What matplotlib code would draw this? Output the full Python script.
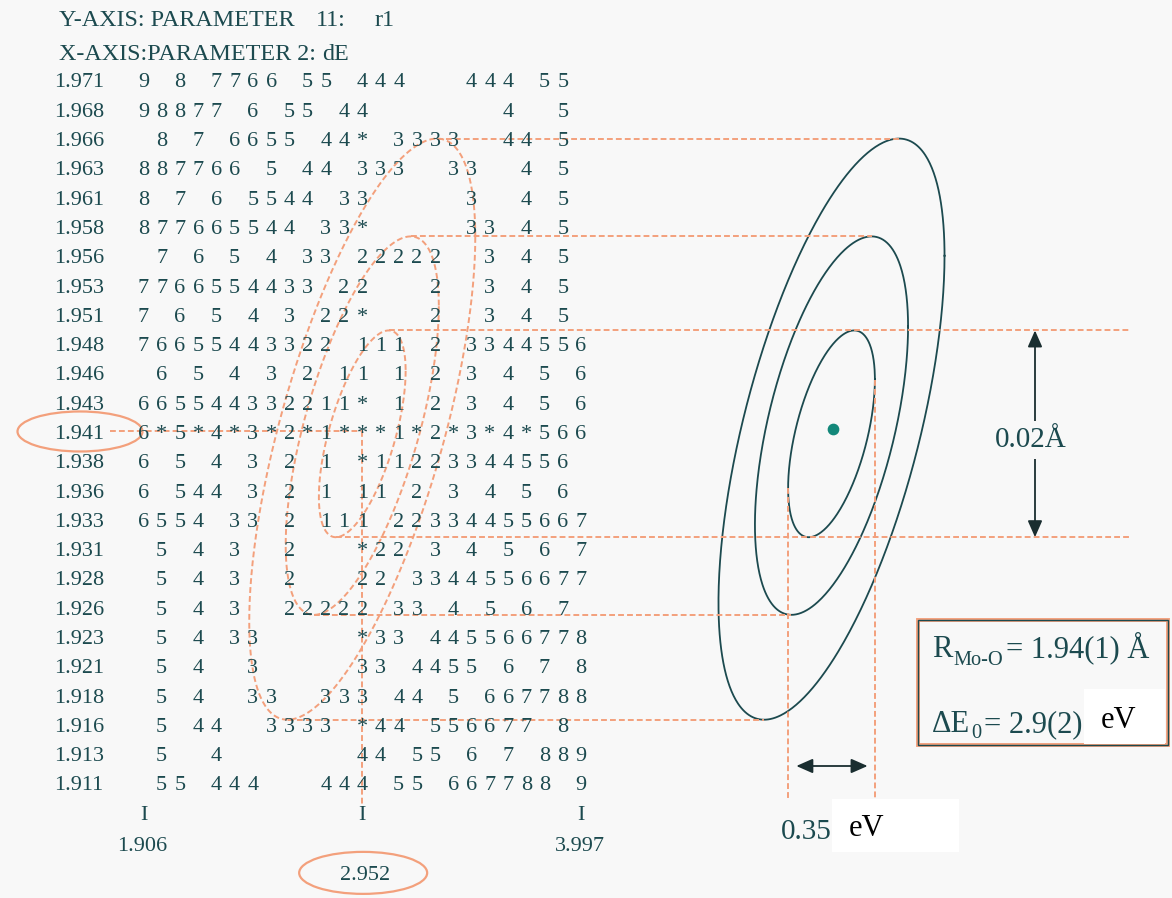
import numpy as np
import matplotlib
matplotlib.use("Agg")
import matplotlib.pyplot as plt
from matplotlib import transforms as mtransforms
from matplotlib.patches import Ellipse, Rectangle

plt.rcParams['font.family'] = ['Liberation Serif', 'DejaVu Serif']

# ---------------- data ----------------
header_y = ["Y-AXIS: PARAMETER", "11:", "r1"]
header_x = ["X-AXIS:PARAMETER 2:", "dE"]

row_labels = ["1.971", "1.968", "1.966", "1.963", "1.961", "1.958", "1.956",
              "1.953", "1.951", "1.948", "1.946", "1.943", "1.941", "1.938",
              "1.936", "1.933", "1.931", "1.928", "1.926", "1.923", "1.921",
              "1.918", "1.916", "1.913", "1.911"]

grid_rows = [
    "9 8 7766 55 444   444 55 ",
    "98877 6 55 44       4  5 ",
    " 8 7 6655 44* 3333  44 5 ",
    "887766 5 44 333  33  4 5 ",
    "8 7 6 5544 33     3  4 5 ",
    "877665544 33*     33 4 5 ",
    " 7 6 5 4 33 22222  3 4 5 ",
    "7766554433 22   2  3 4 5 ",
    "7 6 5 4 3 22*   2  3 4 5 ",
    "76655443322 111 2 3344556",
    " 6 5 4 3 2 11 1 2 3 4 5 6",
    "665544332211* 1 2 3 4 5 6",
    "6*5*4*3*2*1***1*2*3*4*566",
    "6 5 4 3 2 1 *11223344556 ",
    "6 544 3 2 1 11 2 3 4 5 6 ",
    "6554 33 2 111 22334455667",
    " 5 4 3  2   *22 3 4 5 6 7",
    " 5 4 3  2   22 3344556677",
    " 5 4 3  22222 33 4 5 6 7 ",
    " 5 4 33     *33 445566778",
    " 5 4  3     33 4455 6 7 8",
    " 5 4  33  333 44 5 667788",
    " 5 44  3333 *44 556677 8 ",
    " 5  4       44 55 6 7 889",
    " 55 444   444 55 667788 9",
]

x_tick_cols = [0, 12, 24]
x_tick_labels = ["1.906", "2.952", "3.997"]
best_col, best_row = 12, 12          # minimum: dE = 2.952, r1 = 1.941

# confidence contours (in grid units: columns of dE, rows of r1)
contour_half_width = [6.2, 4.2, 2.38]
contour_half_height = [9.92, 6.46, 3.53]
contour_center_row = [11.92, 11.80, 12.08]
left_top_shift = [4.1, 2.65, 1.45]
right_top_shift = [3.7, 2.2, 1.25]
left_center_col = 12.0
right_center_col = 37.74

result_R = ("R", "Mo-O", "= 1.94(1) Å")
result_E = ("ΔE", "0", "= 2.9(2)")
width_R = "0.02Å"
width_E = "0.35"
unit_E = "eV"

# ---------------- layout ----------------
W, H = 1172, 898
COL0, COLSTEP = 143.5, 18.23
ROW0, ROWSTEP = 80.0, 29.29
BG = "#f8f8f8"
TXT = "#1c4a4f"
ORANGE = "#f3a07c"
DASH = (0, (3, 1.6))

fig = plt.figure(figsize=(W / 100, H / 100), dpi=100, facecolor=BG)
ax = fig.add_axes([0, 0, 1, 1])
ax.set_facecolor(BG)
ax.set_xlim(-COL0 / COLSTEP, (W - COL0) / COLSTEP)
ax.set_ylim((H - ROW0) / ROWSTEP, -ROW0 / ROWSTEP)
ax.axis("off")
pix = mtransforms.Affine2D().scale(1 / W, -1 / H).translate(0, 1) + fig.transFigure


def pc(x):
    return (x - COL0) / COLSTEP


def pr(y):
    return (y - ROW0) / ROWSTEP


BASE = 0.256  # baseline offset (rows) from character centre

# header
for txt, xp in zip(header_y, [59, 316, 375]):
    ax.text(xp, 26, txt, transform=pix, fontsize=17.4, color=TXT, va="baseline")
for txt, xp in zip(header_x, [59, 322]):
    ax.text(xp, 60, txt, transform=pix, fontsize=17.4, color=TXT, va="baseline")

# character map
for r, (lab, line) in enumerate(zip(row_labels, grid_rows)):
    ax.text(pc(54), r + BASE, lab, fontsize=16, color=TXT, ha="left", va="baseline")
    for k, ch in enumerate(line):
        if ch != " ":
            ax.text(k, r + BASE, ch, fontsize=16, color=TXT, ha="center", va="baseline")

# x-axis ticks
nrow = len(row_labels)
for c, lab in zip(x_tick_cols, x_tick_labels):
    ax.text(c, nrow + BASE, "I", fontsize=16, color=TXT, ha="center", va="baseline")
    if c == best_col:
        ax.text(c + 0.15, nrow + 2.07 + BASE, lab, fontsize=16, color=TXT, ha="center", va="baseline")
    else:
        ax.text(c - 0.1 if c == 0 else c - 0.05, nrow + 1.05 + BASE, lab, fontsize=16,
                color=TXT, ha="center", va="baseline")

# highlight ellipses
ax.add_patch(Ellipse((pc(80), best_row), 125 / COLSTEP, 40 / ROWSTEP, fill=False,
                     ec=ORANGE, lw=1.6))
ax.add_patch(Ellipse((best_col + 0.05, nrow + 2.07), 128 / COLSTEP, 42 / ROWSTEP,
                     fill=False, ec=ORANGE, lw=1.6))

# best-fit cross lines
ax.plot([pc(110), best_col], [best_row, best_row], color=ORANGE, lw=1.4, ls=DASH)
ax.plot([best_col, best_col], [best_row, 24.8], color=ORANGE, lw=1.4, ls=DASH)


def contour_xy(cx, cy, xh, yh, dxt, n=500):
    M = np.array([[xh ** 2, -dxt * yh], [-dxt * yh, yh ** 2]])
    L = np.linalg.cholesky(M)
    t = np.linspace(0, 2 * np.pi, n)
    p = L @ np.vstack([np.cos(t), np.sin(t)])
    return cx + p[0], cy + p[1]


far_col = pc(1130)
for i in range(3):
    xh, yh, cy = contour_half_width[i], contour_half_height[i], contour_center_row[i]
    ls_, rs_ = left_top_shift[i], right_top_shift[i]
    x, y = contour_xy(left_center_col, cy, xh, yh, ls_)
    ax.plot(x, y, color=ORANGE, lw=1.4, ls=DASH)
    x, y = contour_xy(right_center_col, cy, xh, yh, rs_)
    ax.plot(x, y, color=TXT, lw=1.3)
    # projections
    top_end = far_col if i == 2 else right_center_col + rs_
    bot_end = far_col if i == 2 else right_center_col - rs_
    ax.plot([left_center_col + ls_, top_end], [cy - yh, cy - yh], color=ORANGE, lw=1.4, ls=DASH)
    ax.plot([left_center_col - ls_, bot_end], [cy + yh, cy + yh], color=ORANGE, lw=1.4, ls=DASH)

# vertical projections of inner contour
xh, yh, cy, rs_ = contour_half_width[2], contour_half_height[2], contour_center_row[2], right_top_shift[2]
vert_bottom = pr(800)
ax.plot([right_center_col + xh] * 2, [cy - rs_ * yh / xh, vert_bottom], color=ORANGE, lw=1.4, ls=DASH)
ax.plot([right_center_col - xh] * 2, [cy + rs_ * yh / xh, vert_bottom], color=ORANGE, lw=1.4, ls=DASH)

# best-fit dot
ax.scatter([pc(833)], [pr(428.7)], s=55, color="#13887a", zorder=5)

# vertical 0.02 Å arrow
arrow_col = pc(1035)
inner_top = contour_center_row[2] - contour_half_height[2]
inner_bot = contour_center_row[2] + contour_half_height[2]
ap = dict(arrowstyle="<|-|>,head_length=0.5,head_width=0.22", color="#1a2e30", lw=1.3,
          shrinkA=0, shrinkB=0, mutation_scale=20)
ax.annotate("", xy=(arrow_col, inner_top), xytext=(arrow_col, inner_bot), arrowprops=ap)
ax.text(1031, 447, width_R, transform=pix, fontsize=21, color=TXT, ha="center", va="baseline",
        bbox=dict(boxstyle="square,pad=0.2", fc=BG, ec="none"), zorder=6)

# horizontal 0.35 eV arrow
arr_row = pr(766)
ax.annotate("", xy=(right_center_col - xh + 0.45, arr_row),
            xytext=(right_center_col + xh - 0.4, arr_row), arrowprops=ap)
ax.text(832, 839, width_E, transform=pix, fontsize=21, color=TXT, ha="right", va="baseline")
ax.add_patch(Rectangle((832, 799), 127, 53, transform=pix, fc="white", ec="none"))
ax.text(849, 836, unit_E, transform=pix, fontsize=22, color="black", va="baseline")

# results box
ax.add_patch(Rectangle((918, 620), 250, 125, transform=pix, fill=False, ec=ORANGE, lw=2.8))
ax.add_patch(Rectangle((918, 620), 250, 125, transform=pix, fill=False, ec=TXT, lw=1.0))
ax.text(932, 657, result_R[0], transform=pix, fontsize=22, color=TXT, va="baseline")
ax.text(953, 665, result_R[1], transform=pix, fontsize=14.7, color=TXT, va="baseline")
ax.text(1006, 657, result_R[2], transform=pix, fontsize=22, color=TXT, va="baseline")
ax.text(932, 732, result_E[0], transform=pix, fontsize=22, color=TXT, va="baseline")
ax.text(971, 738, result_E[1], transform=pix, fontsize=14.7, color=TXT, va="baseline")
ax.text(984, 732, result_E[2], transform=pix, fontsize=22, color=TXT, va="baseline")
ax.add_patch(Rectangle((1084, 689), 81, 55, transform=pix, fc="white", ec="none", zorder=4))
ax.text(1101, 728, unit_E, transform=pix, fontsize=22, color="black", va="baseline", zorder=5)

fig.savefig("out.png", dpi=100, facecolor=BG)
